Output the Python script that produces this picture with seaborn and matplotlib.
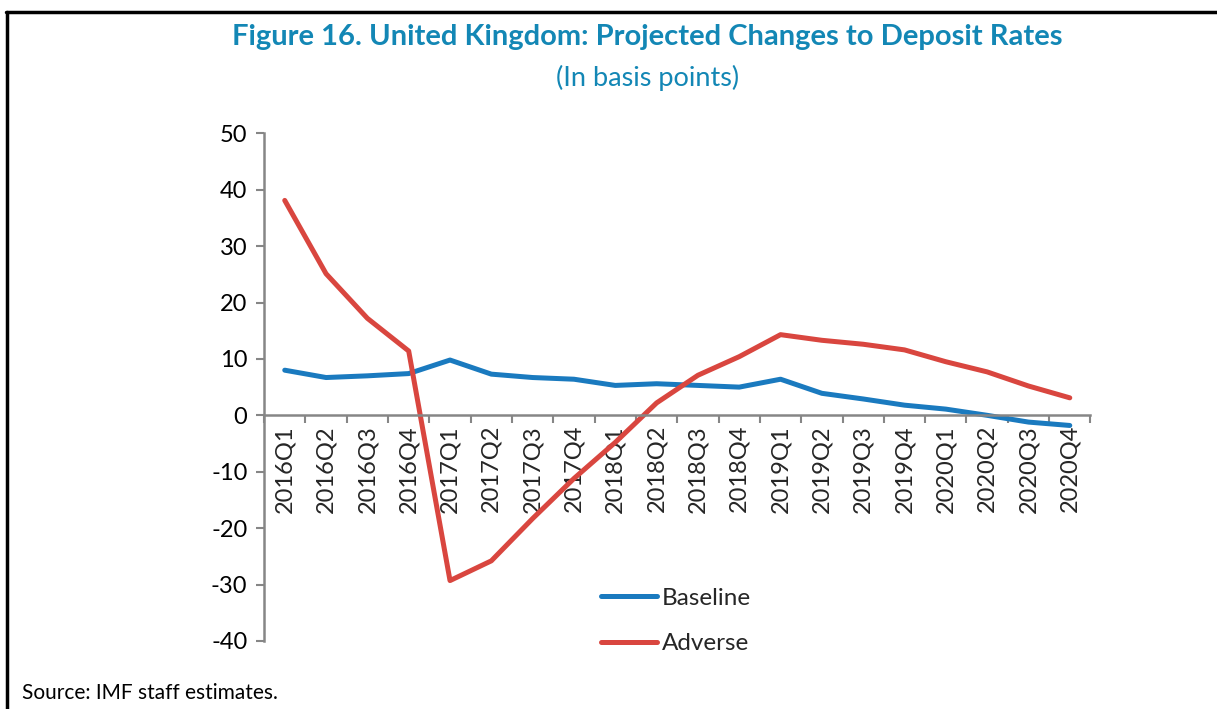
import matplotlib
matplotlib.use("Agg")
import matplotlib.pyplot as plt
import seaborn as sns
import pandas as pd
from matplotlib.lines import Line2D

# Data
quarters = ["2016Q1", "2016Q2", "2016Q3", "2016Q4",
            "2017Q1", "2017Q2", "2017Q3", "2017Q4",
            "2018Q1", "2018Q2", "2018Q3", "2018Q4",
            "2019Q1", "2019Q2", "2019Q3", "2019Q4",
            "2020Q1", "2020Q2", "2020Q3", "2020Q4"]
baseline = [8.0, 6.7, 7.0, 7.4, 9.8, 7.3, 6.7, 6.4, 5.3, 5.6,
            5.3, 5.0, 6.4, 3.9, 2.9, 1.8, 1.1, 0.0, -1.2, -1.8]
adverse = [38.1, 25.1, 17.2, 11.4, -29.3, -25.8, -18.3, -11.2, -4.8, 2.2,
           7.1, 10.4, 14.3, 13.3, 12.6, 11.6, 9.5, 7.7, 5.2, 3.1]
series_names = ["Baseline", "Adverse"]

title_color = "#1387b5"
line_colors = {"Baseline": "#1a7abf", "Adverse": "#d9463f"}
axis_gray = "#868686"

sns.set_theme(style="white")
plt.rcParams['font.family'] = ['Lato', 'DejaVu Sans']
plt.rcParams['axes.unicode_minus'] = False

df = pd.DataFrame({"quarter": quarters, "Baseline": baseline, "Adverse": adverse})
df["pos"] = range(len(quarters))
long_df = df.melt(id_vars=["quarter", "pos"], value_vars=series_names,
                  var_name="series", value_name="value")

fig = plt.figure(figsize=(12.17, 7.09), dpi=100)
ax = fig.add_axes([0.217, 0.096, 0.679, 0.716])

sns.lineplot(data=long_df, x="pos", y="value", hue="series", hue_order=series_names,
             palette=line_colors, linewidth=3.6, ax=ax, legend=False,
             solid_capstyle="round", solid_joinstyle="round")

ax.set_xlim(-0.5, len(quarters) - 0.5)
ax.set_ylim(-40, 50)
ax.set_yticks(range(-40, 51, 10))
ax.tick_params(axis="y", labelsize=17, length=6, width=1.5, color=axis_gray,
               pad=6, left=True, labelcolor="black")
ax.set_xlabel("")
ax.set_ylabel("")

# category axis drawn at y = 0
ax.spines["bottom"].set_position(("data", 0))
for s in ["top", "right"]:
    ax.spines[s].set_visible(False)
for s in ["left", "bottom"]:
    ax.spines[s].set_color(axis_gray)
    ax.spines[s].set_linewidth(1.8)

ax.set_xticks([i + 0.5 for i in range(-1, len(quarters))], minor=False)
ax.set_xticklabels([])
ax.tick_params(axis="x", which="major", direction="out", length=6, width=1.5,
               color=axis_gray, bottom=True)
ax.set_xticks(range(len(quarters)), minor=True)
ax.set_xticklabels(quarters, minor=True, rotation=90, fontsize=17,
                   va="top", ha="center")
ax.tick_params(axis="x", which="minor", length=0, pad=7)
ax.grid(False)

handles = [Line2D([0], [0], color=line_colors[n], lw=3.6, solid_capstyle="round")
           for n in series_names]
ax.legend(handles, series_names, loc="center left", bbox_to_anchor=(0.476, 0.124),
          bbox_transform=fig.transFigure, frameon=False, fontsize=17.5,
          handlelength=2.3, handletextpad=0.2, labelspacing=1.0)

fig.text(0.532, 0.948, "Figure 16. United Kingdom: Projected Changes to Deposit Rates",
         ha="center", va="center", fontsize=21, fontweight="bold", color=title_color)
fig.text(0.532, 0.89, "(In basis points)", ha="center", va="center",
         fontsize=19.5, color=title_color)
fig.text(0.018, 0.022, "Source: IMF staff estimates.", ha="left", va="center",
         fontsize=15, color="black")

# frame around the figure (top and left edges visible)
fig.add_artist(Line2D([0.005, 1.0], [1 - 12 / 709, 1 - 12 / 709],
                      transform=fig.transFigure, color="black", lw=2.5))
fig.add_artist(Line2D([0.006, 0.006], [0.0, 1 - 12 / 709],
                      transform=fig.transFigure, color="black", lw=2.5))

fig.savefig("out.png", dpi=100)
